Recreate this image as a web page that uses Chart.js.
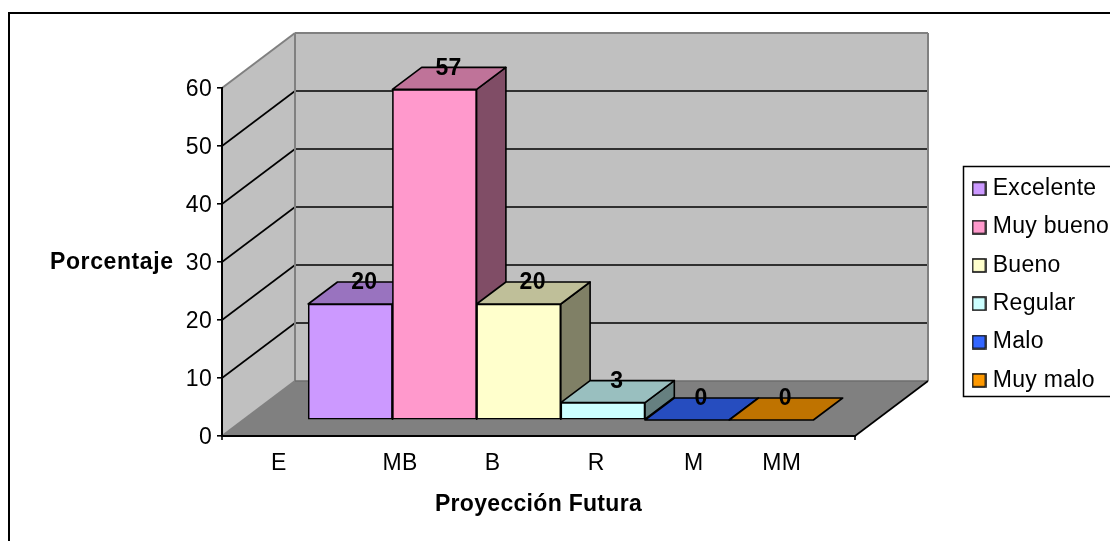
<!DOCTYPE html>
<html>
<head>
<meta charset="utf-8">
<script src="https://cdn.jsdelivr.net/npm/chart.js@4"></script>
<style>html,body{margin:0;padding:0;background:#fff}canvas{display:block}</style>
</head>
<body>
<canvas id="c" width="1110" height="541"></canvas>
<script>
const categories = ['E', 'MB', 'B', 'R', 'M', 'MM'];
const seriesNames = ['Excelente', 'Muy bueno', 'Bueno', 'Regular', 'Malo', 'Muy malo'];
const values = [20, 57, 20, 3, 0, 0];
const colors = ['#CC99FF', '#FF99CC', '#FFFFCC', '#CCFFFF', '#3366FF', '#FF9900'];
const yTicks = [0, 10, 20, 30, 40, 50, 60];
const xTitle = 'Proyección Futura';
const yTitle = 'Porcentaje';

// layout constants
const W = 1110, H = 541;
const FONT = '"Liberation Sans", Arial, sans-serif';
const FS = 23;
const SPACING = '0.3px';
const UNIT = 84.2;                  // px per bar along x
const WALL = {dx: 73, dy: -55};     // depth of the floor
const BAR = {dx: 29.3, dy: -22};    // depth of each bar
const LIFT = 16;                    // bars stand further back on the floor than the front axis
const tickPos = [-0.85, 0.59, 1.69, 2.92, 4.08, 5.125]; // label centres, in bar units

function shade(hex, f) {
  const n = parseInt(hex.slice(1), 16);
  return 'rgb(' + [(n >> 16) & 255, (n >> 8) & 255, n & 255].map(c => Math.round(c * f)).join(',') + ')';
}
function poly(ctx, pts, fill, stroke, lw) {
  ctx.beginPath();
  pts.forEach((p, i) => i ? ctx.lineTo(p[0], p[1]) : ctx.moveTo(p[0], p[1]));
  ctx.closePath();
  if (fill) { ctx.fillStyle = fill; ctx.fill(); }
  if (stroke) { ctx.strokeStyle = stroke; ctx.lineWidth = lw; ctx.lineJoin = 'round'; ctx.stroke(); }
}
function line(ctx, x0, y0, x1, y1, c, lw) {
  ctx.beginPath(); ctx.moveTo(x0, y0); ctx.lineTo(x1, y1);
  ctx.strokeStyle = c; ctx.lineWidth = lw; ctx.stroke();
}
function swatch(color) {
  const s = document.createElement('canvas');
  s.width = 15; s.height = 15;
  const g = s.getContext('2d');
  g.fillStyle = color; g.fillRect(1, 1, 13, 13);
  g.strokeStyle = '#111'; g.lineWidth = 1.6; g.strokeRect(1, 1, 13, 13);
  return s;
}

const scene = {
  id: 'scene',
  beforeUpdate(chart) { chart.ctx.letterSpacing = SPACING; },
  afterLayout(chart) {
    const l = chart.legend;
    const w = l.width, h = l.height;
    l.left = 961.5; l.right = 961.5 + w; l.top = 162; l.bottom = 162 + h;
  },
  beforeDraw(chart) {
    const ctx = chart.ctx, y = chart.scales.y, a = chart.chartArea;
    ctx.letterSpacing = SPACING;
    ctx.save();
    // outer frame
    ctx.strokeStyle = '#000'; ctx.lineWidth = 2;
    ctx.strokeRect(9, 13, 1300, 900);
    // legend frame
    ctx.fillStyle = '#fff';
    ctx.fillRect(963.5, 166.5, 160, 230);
    ctx.strokeStyle = '#000'; ctx.lineWidth = 1.5;
    ctx.strokeRect(963.5, 166.5, 160, 230);
    // walls and floor
    const y0 = y.getPixelForValue(0), yM = y.getPixelForValue(60);
    const L = a.left, R = a.right, dx = WALL.dx, dy = WALL.dy;
    poly(ctx, [[L, y0], [L + dx, y0 + dy], [L + dx, yM + dy], [L, yM]], '#C0C0C0');
    poly(ctx, [[L + dx, y0 + dy], [R + dx, y0 + dy], [R + dx, yM + dy], [L + dx, yM + dy]], '#C0C0C0');
    poly(ctx, [[L, y0], [R, y0], [R + dx, y0 + dy], [L + dx, y0 + dy]], '#808080');
    // gridlines on the two walls
    yTicks.slice(1, -1).forEach(v => {
      const p = y.getPixelForValue(v);
      line(ctx, L, p, L + dx, p + dy, '#000', 1.6);
      line(ctx, L + dx, p + dy, R + dx, p + dy, '#000', 1.6);
    });
    // wall edges
    ctx.lineJoin = 'round';
    line(ctx, L, yM, L + dx, yM + dy, '#808080', 2);
    line(ctx, L + dx, yM + dy, R + dx, yM + dy, '#808080', 2);
    line(ctx, L + dx, yM + dy, L + dx, y0 + dy, '#808080', 2);
    line(ctx, R + dx, yM + dy, R + dx, y0 + dy, '#808080', 2);
    line(ctx, L, y0, L + dx, y0 + dy, '#808080', 2);
    line(ctx, L + dx, y0 + dy, R + dx, y0 + dy, '#6e6e6e', 1.5);
    line(ctx, R, y0, R + dx, y0 + dy, '#000', 1.6);
    line(ctx, L, y0, L, y0 + 4, '#000', 1.6);
    line(ctx, R, y0, R, y0 + 4, '#000', 1.6);
    // horizontal value-axis title
    ctx.fillStyle = '#000';
    ctx.font = 'bold ' + FS + 'px ' + FONT;
    ctx.letterSpacing = '0.6px';
    ctx.textAlign = 'left'; ctx.textBaseline = 'middle';
    ctx.fillText(yTitle, 50, 263);
    ctx.restore();
    ctx.letterSpacing = SPACING;
  },
  beforeDatasetsDraw(chart) {
    const ctx = chart.ctx;
    ctx.save();
    ctx.translate(0, -LIFT);
    chart.getDatasetMeta(0).data.forEach((bar, i) => {
      const l = bar.x - bar.width / 2, r = bar.x + bar.width / 2, t = bar.y, b = bar.base;
      if (t !== b) {
        poly(ctx, [[r, t], [r + BAR.dx, t + BAR.dy], [r + BAR.dx, b + BAR.dy], [r, b]], shade(colors[i], 0.5), '#000', 1.6);
      }
      poly(ctx, [[l, t], [r, t], [r + BAR.dx, t + BAR.dy], [l + BAR.dx, t + BAR.dy]], shade(colors[i], 0.75), '#000', 1.6);
    });
  },
  afterDatasetsDraw(chart) {
    const ctx = chart.ctx;
    chart.getDatasetMeta(0).data.forEach((bar, i) => {
      ctx.fillStyle = '#000';
      ctx.font = 'bold ' + FS + 'px ' + FONT;
      ctx.textAlign = 'center'; ctx.textBaseline = 'middle';
      ctx.fillText(String(values[i]), bar.x + 14, bar.y + BAR.dy + 1);
    });
    ctx.restore();
  }
};

new Chart(document.getElementById('c'), {
  type: 'bar',
  data: {
    datasets: [{
      data: values.map((v, i) => ({x: i, y: v})),
      backgroundColor: colors,
      borderColor: '#000',
      borderWidth: 1.6,
      borderSkipped: false,
      barThickness: UNIT,
      clip: false
    }]
  },
  options: {
    responsive: false,
    animation: false,
    events: [],
    layout: {padding: {left: 0, top: 88, right: W - 855, bottom: 0}},
    scales: {
      x: {
        type: 'linear',
        offset: false,
        min: -128.3 / UNIT,
        max: (855 - 222 - 128.3) / UNIT,
        afterBuildTicks(axis) { axis.ticks = tickPos.map(value => ({value})); },
        afterFit(axis) { axis.height = H - 436; },
        grid: {display: false, offset: false},
        border: {display: true, color: '#000', width: 2},
        ticks: {
          autoSkip: false, maxRotation: 0, minRotation: 0, padding: 6,
          color: '#000', font: {family: FONT, size: FS},
          callback: (v, i) => categories[i]
        },
        title: {display: true, text: xTitle, color: '#000', font: {family: FONT, size: FS, weight: 'bold'}, padding: {top: 0, bottom: 23}}
      },
      y: {
        min: 0, max: 60,
        afterBuildTicks(axis) { axis.ticks = yTicks.map(value => ({value})); },
        afterFit(axis) { axis.width = 222; },
        grid: {display: true, drawOnChartArea: false, drawTicks: true, tickLength: 5, color: '#000', lineWidth: 1.6},
        border: {display: true, color: '#000', width: 2},
        ticks: {padding: 5, labelOffset: 1.5, color: '#000', font: {family: FONT, size: FS}}
      }
    },
    plugins: {
      title: {display: false},
      tooltip: {enabled: false},
      legend: {
        position: 'chartArea',
        align: 'start',
        labels: {
          color: '#000',
          font: {family: FONT, size: FS},
          usePointStyle: true,
          pointStyleWidth: 4.4,
          boxHeight: 13,
          padding: 15.3,
          generateLabels: () => seriesNames.map((text, i) => ({
            text, pointStyle: swatch(colors[i]), hidden: false, index: i
          }))
        }
      }
    }
  },
  plugins: [scene]
});
</script>
</body>
</html>
